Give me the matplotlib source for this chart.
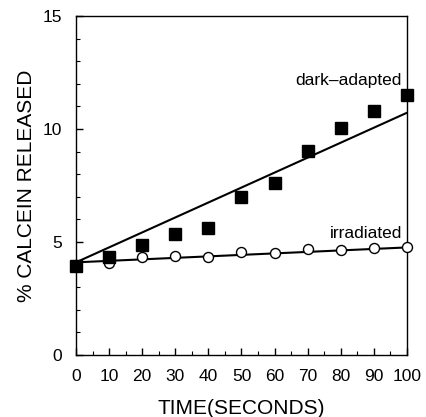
import numpy as np
import matplotlib
matplotlib.use("Agg")
import matplotlib.pyplot as plt
from matplotlib.ticker import MultipleLocator

# data
time_s = [0, 10, 20, 30, 40, 50, 60, 70, 80, 90, 100]
dark_adapted = [3.95, 4.32, 4.87, 5.34, 5.62, 7.0, 7.62, 9.04, 10.06, 10.8, 11.5]
irradiated = [4.0, 4.08, 4.32, 4.39, 4.35, 4.57, 4.53, 4.69, 4.65, 4.72, 4.76]

# straight lines drawn in the figure (end points)
fit_time = [0, 100]
fit_dark = [4.1, 10.72]
fit_irr = [4.1, 4.76]

plt.rcParams['font.family'] = ['Liberation Sans', 'DejaVu Sans']

fig = plt.figure(figsize=(4.26, 4.17), dpi=100)
ax = fig.add_axes([0.1784, 0.1487, 0.9554 - 0.1784, 0.9616 - 0.1487])

ax.plot(fit_time, fit_dark, color="black", linewidth=1.5, zorder=2)
ax.plot(fit_time, fit_irr, color="black", linewidth=1.5, zorder=2)
ax.plot(time_s, irradiated, linestyle="none", marker="o", markersize=7.2,
        markerfacecolor="white", markeredgecolor="black", markeredgewidth=1.0,
        zorder=3, clip_on=False)
ax.plot(time_s, dark_adapted, linestyle="none", marker="s", markersize=8,
        color="black", zorder=4, clip_on=False)

ax.text(98.5, 11.8, "dark\u2013adapted", ha="right", va="bottom", fontsize=12.5)
ax.text(98.5, 5.05, "irradiated", ha="right", va="bottom", fontsize=12.5)

ax.set_xlim(0, 100)
ax.set_ylim(0, 15)
ax.xaxis.set_major_locator(MultipleLocator(10))
ax.xaxis.set_minor_locator(MultipleLocator(5))
ax.yaxis.set_major_locator(MultipleLocator(5))
ax.yaxis.set_minor_locator(MultipleLocator(1))
ax.tick_params(which="both", direction="in", top=False, right=False, color="black")
ax.tick_params(which="major", length=5, width=1, pad=10, labelsize=12.5)
ax.tick_params(which="minor", length=3, width=0.8)

for sp in ax.spines.values():
    sp.set_linewidth(1.0)

ax.set_xlabel("TIME(SECONDS)", fontsize=15, labelpad=11)
ax.set_ylabel("% CALCEIN RELEASED", fontsize=15, labelpad=5)

fig.savefig("out.png", dpi=100)
